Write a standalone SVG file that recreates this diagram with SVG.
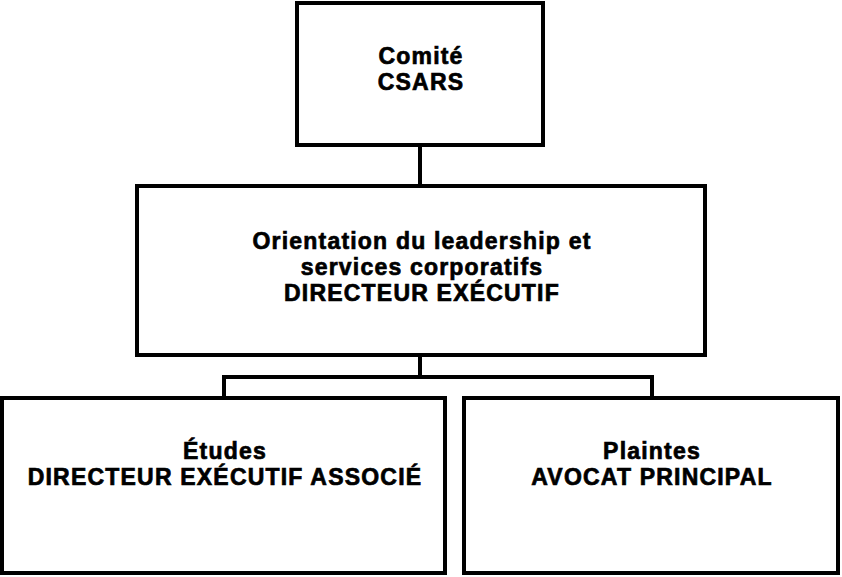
<svg xmlns="http://www.w3.org/2000/svg" width="842" height="577" viewBox="0 0 842 577">
<style>
.b{fill:#fff;stroke:#000;stroke-width:4}
.t{font-family:"Liberation Sans",Arial,sans-serif;font-weight:bold;font-size:23px;letter-spacing:1.2px;text-anchor:middle;fill:#000;stroke:#000;stroke-width:0.7}
.c{fill:none;stroke:#000;stroke-width:4}
</style>
<rect width="842" height="577" fill="#fff"/>
<g id="connectors">
<path class="c" d="M420 145V186M420 355V377M224 377H652M224 375V398M652 375V398"/>
</g>
<g id="csars"><rect class="b" x="297" y="3" width="246" height="142"/>
<text class="t" x="421" y="64">Comité</text><text class="t" x="421" y="90">CSARS</text></g>
<g id="directeur"><rect class="b" x="137" y="186" width="568" height="169"/>
<text class="t" x="422" y="249">Orientation du leadership et</text>
<text class="t" x="422" y="275">services corporatifs</text>
<text class="t" x="422" y="301">DIRECTEUR EXÉCUTIF</text></g>
<g id="etudes"><rect class="b" x="2" y="398" width="443" height="175"/>
<text class="t" x="225" y="459">Études</text>
<text class="t" x="225" y="485">DIRECTEUR EXÉCUTIF ASSOCIÉ</text></g>
<g id="plaintes"><rect class="b" x="464" y="398" width="374" height="175"/>
<text class="t" x="652" y="459">Plaintes</text>
<text class="t" x="652" y="485">AVOCAT PRINCIPAL</text></g>
</svg>
